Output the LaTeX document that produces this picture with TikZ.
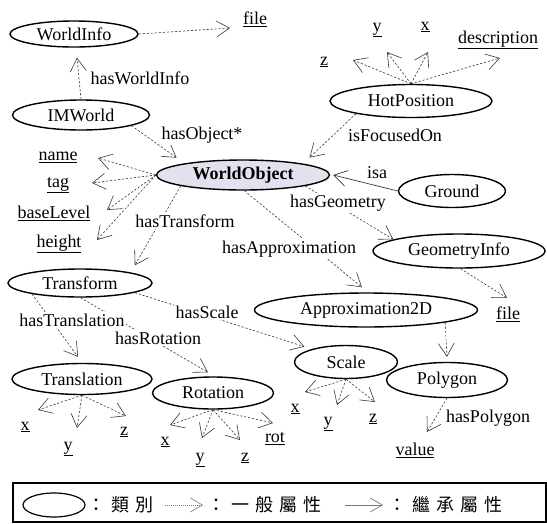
\documentclass[tikz,border=0pt]{standalone}
\usepackage{fontspec}
\setmainfont{Liberation Serif}
\newfontfamily\cjkfont{Noto Sans CJK TC}
\usetikzlibrary{arrows.meta,shapes.geometric}

\definecolor{objfill}{RGB}{228,224,238}
\definecolor{linegray}{RGB}{55,55,55}
\definecolor{leggray}{RGB}{120,120,120}

\newcommand{\spacedcjk}[1]{{\cjkfont #1}}

\begin{document}
\begin{tikzpicture}[x=1pt,y=-1pt,
  font=\fontsize{18}{20}\selectfont,
  cls/.style 2 args={draw=black, line width=1.4pt, ellipse, inner sep=0pt,
    minimum width=#1, minimum height=#2},
  prop/.style={inner sep=1pt},
  lbl/.style={fill=white, inner sep=1.5pt},
  attr/.style={draw=linegray, line width=0.6pt, dash pattern=on 2.2pt off 1.8pt,
    -{Straight Barb[length=13pt,width=16pt,line width=0.6pt]}},
  inherit/.style={draw=linegray, line width=0.7pt,
    -{Straight Barb[length=13pt,width=16pt,line width=0.7pt]}},
  legattr/.style={draw=leggray, line width=0.6pt, dash pattern=on 1pt off 1pt,
    -{Straight Barb[length=12pt,width=14pt,line width=0.6pt]}},
  leginherit/.style={draw=leggray, line width=0.7pt,
    -{Straight Barb[length=12pt,width=14pt,line width=0.7pt]}}]

\useasboundingbox (0,0) rectangle (547,523);

% ---------- classes ----------
\node[cls={128}{26}] (wi) at (74,34) {WorldInfo};
\node[cls={137}{30}] (im) at (81,115) {IMWorld};
\node[cls={173}{30}, fill=objfill] (wo) at (243,175) {\textbf{WorldObject}};
\node[cls={162}{33}] (hp) at (411,101) {HotPosition};
\node[cls={107}{33}] (gr) at (452,191) {Ground};
\node[cls={172}{34}] (geo) at (459,251) {GeometryInfo};
\node[cls={223}{34}] (ap) at (366,310) {Approximation2D};
\node[cls={121}{35}] (po) at (447,380) {Polygon};
\node[cls={103}{33}] (sc) at (346,362) {Scale};
\node[cls={144}{28}] (tr) at (80,283) {Transform};
\node[cls={140}{31}] (tl) at (82,379) {Translation};
\node[cls={121}{32}] (ro) at (213,393) {Rotation};

% ---------- attribute values ----------
\node[prop] (fileA) at (255,19) {\underline{file}};
\node[prop] (hpy) at (377,30) {\underline{y}};
\node[prop] (hpx) at (425,27) {\underline{x}};
\node[prop] (hpd) at (498,40) {\underline{description}};
\node[prop] (hpz) at (324,62) {\underline{z}};
\node[prop] (name) at (58,157) {\underline{name}};
\node[prop] (tag) at (58,185) {\underline{tag}};
\node[prop] (base) at (54,213) {\underline{baseLevel}};
\node[prop] (hgt) at (59,244) {\underline{height}};
\node[prop] (fileB) at (508,314) {\underline{file}};
\node[prop] (val) at (415,450) {\underline{value}};
\node[prop] (tlx) at (25,427) {\underline{x}};
\node[prop] (tly) at (68,449) {\underline{y}};
\node[prop] (tlz) at (124,432) {\underline{z}};
\node[prop] (rox) at (165,442) {\underline{x}};
\node[prop] (roy) at (200,460) {\underline{y}};
\node[prop] (roz) at (245,458) {\underline{z}};
\node[prop] (rot) at (275,439) {\underline{rot}};
\node[prop] (scx) at (295,409) {\underline{x}};
\node[prop] (scy) at (328,424) {\underline{y}};
\node[prop] (scz) at (373,419) {\underline{z}};

% ---------- arrow ends near the values ----------
\coordinate (fileAt) at (230,28);
\coordinate (hpzt) at (353,60);
\coordinate (hpyt) at (387,52);
\coordinate (hpxt) at (428,52);
\coordinate (hpdt) at (500,58);
\coordinate (namet) at (98,158);
\coordinate (tagt) at (92,183);
\coordinate (baset) at (107,210);
\coordinate (hgtt) at (97,240);
\coordinate (fileBt) at (507,298);
\coordinate (valt) at (427,432);
\coordinate (tlxt) at (38,410);
\coordinate (tlyt) at (77,428);
\coordinate (tlzt) at (126,416);
\coordinate (roxt) at (170,425);
\coordinate (royt) at (202,438);
\coordinate (rozt) at (240,440);
\coordinate (rott) at (273,423);
\coordinate (scxt) at (305,392);
\coordinate (scyt) at (337,405);
\coordinate (sczt) at (375,402);

% ---------- relations between classes ----------
\draw[attr] (im.north) -- ([shift={(3,10)}]wi.south);
\draw[attr] (im.-12) -- ([shift={(-1,-7)}]wo.171);
\draw[attr] (hp.-167) -- ([shift={(1,-7)}]wo.9);
\draw[inherit] (gr.west) -- ([shift={(3,0)}]wo.east);
\draw[attr] (wo.-10) -- (geo.170);
\draw[attr] (wo.-85) -- ([shift={(-4,-5)}]ap.north);
\draw[attr] (wo.-170) -- ([shift={(0,-8)}]tr.10);
\draw[attr] (ap.-9) -- ([shift={(0,-5)}]po.north);
\draw[attr] (tr.-10) -- ([shift={(0,-5)}]sc.166);
\draw[attr] (tr.-167) -- ([shift={(-4,-6)}]tl.north);
\draw[attr] (tr.-88) -- ([shift={(-5,-4)}]ro.north);

% ---------- attributes ----------
\draw[attr] (wi.east) -- (fileAt);
\foreach \t in {hpzt,hpyt,hpxt,hpdt} \draw[attr] (hp.north) -- (\t);
\foreach \t in {namet,tagt,baset,hgtt} \draw[attr] (wo.west) -- (\t);
\draw[attr] (geo.-85) -- (fileBt);
\draw[attr] (po.south) -- (valt);
\foreach \t in {tlxt,tlyt,tlzt} \draw[attr] (tl.south) -- (\t);
\foreach \t in {roxt,royt,rozt,rott} \draw[attr] (ro.south) -- (\t);
\foreach \t in {scxt,scyt,sczt} \draw[attr] (sc.south) -- (\t);

% ---------- relation names ----------
\node[lbl] (lWI) at (140,78) {hasWorldInfo};
\node[lbl] (lOB) at (202,135) {hasObject*};
\node[lbl] (lFO) at (395,135) {isFocusedOn};
\node[lbl] (lISA) at (377,173) {isa};
\node[lbl] (lGE) at (338,203) {hasGeometry};
\node[lbl] (lTF) at (185,221) {hasTransform};
\node[lbl] (lAP) at (289,249) {hasApproximation};
\node[lbl] (lSC) at (207,312) {hasScale};
\node[lbl] (lTL) at (72,320) {hasTranslation};
\node[lbl] (lRO) at (158,338) {hasRotation};
\node[lbl] (lPO) at (488,418) {hasPolygon};

% ---------- legend ----------
\draw[line width=1.2pt] (13,483) rectangle (546,522);
\node[cls={62}{24}, line width=1.2pt] (legcls) at (54,505) {};
\node[anchor=west, inner sep=0pt] (legclsT) at (87,505)
  {\spacedcjk{：\hspace{6pt}類\hspace{6pt}別}};
\coordinate (la1) at (165,505);
\coordinate (la2) at (203,505);
\draw[legattr] (la1) -- (la2);
\node[anchor=west, inner sep=0pt] (legattrT) at (207,505)
  {\spacedcjk{：\hspace{6pt}一\hspace{6pt}般\hspace{6pt}屬\hspace{6pt}性}};
\coordinate (lb1) at (345,505);
\coordinate (lb2) at (383,505);
\draw[leginherit] (lb1) -- (lb2);
\node[anchor=west, inner sep=0pt] (leginhT) at (388,505)
  {\spacedcjk{：\hspace{6pt}繼\hspace{6pt}承\hspace{6pt}屬\hspace{6pt}性}};
\end{tikzpicture}
\end{document}
